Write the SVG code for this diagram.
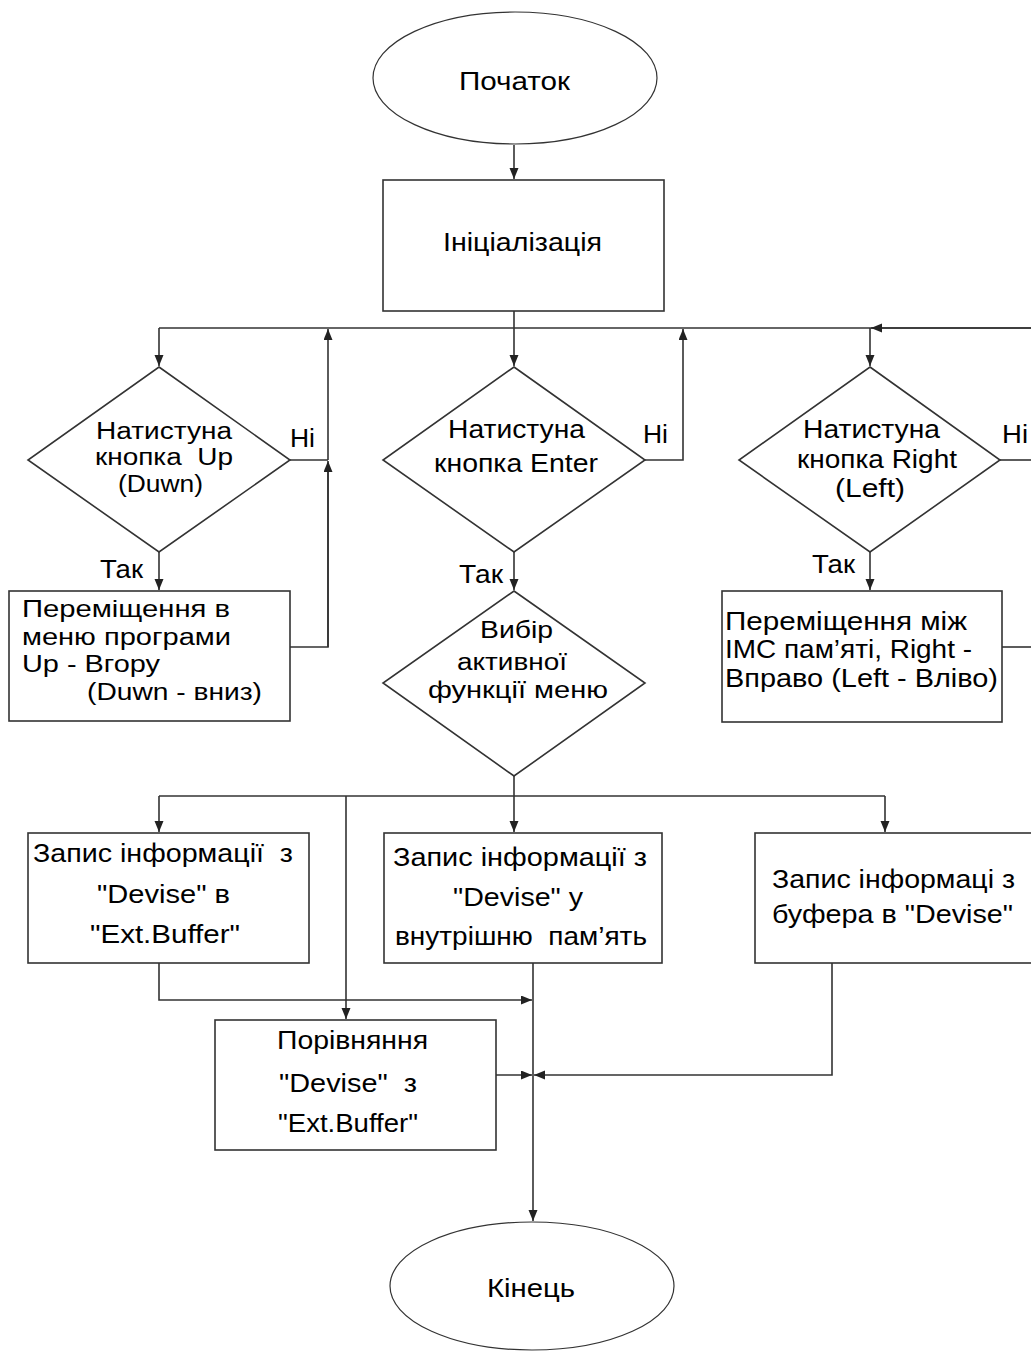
<svg xmlns="http://www.w3.org/2000/svg" width="1031" height="1352" viewBox="0 0 1031 1352">
<defs>
<marker id="ah" markerUnits="userSpaceOnUse" markerWidth="12" markerHeight="10" refX="11" refY="4.5" orient="auto">
<path d="M0,0 L11,4.5 L0,9 z" fill="#222"/>
</marker>
<style>
.s{fill:#fff;stroke:#333;stroke-width:1.6}
.e{fill:#fff;stroke:#333;stroke-width:1.2}
.c{fill:none;stroke:#333;stroke-width:1.6}
.a{marker-end:url(#ah)}
text{font-family:"Liberation Sans",Arial,sans-serif;font-size:26px;fill:#000;white-space:pre}
.t{font-size:23px}
</style>
</defs>
<rect width="1031" height="1352" fill="#fff"/>
<g id="connectors">
<path class="c a" d="M514,145 V179"/>
<path class="c a" d="M514,311 V366"/>
<path class="c" d="M159,328 H1031"/>
<path class="c a" d="M159,328 V366"/>
<path class="c" d="M290,460 H328"/>
<path class="c" d="M290,647 H328 V470"/>
<path class="c a" d="M328,647 V461"/>
<path class="c a" d="M328,460 V329"/>
<path class="c a" d="M159,552 V590"/>
<path class="c a" d="M645,460 H683 V329"/>
<path class="c a" d="M514,552 V590"/>
<path class="c a" d="M1031,328 H871"/>
<path class="c a" d="M870,328 V366"/>
<path class="c" d="M1000,460 H1031"/>
<path class="c" d="M1002,647 H1031"/>
<path class="c a" d="M870,552 V590"/>
<path class="c" d="M514,776 V796"/>
<path class="c" d="M159,796 H885"/>
<path class="c a" d="M159,796 V832"/>
<path class="c a" d="M514,796 V832"/>
<path class="c a" d="M885,796 V832"/>
<path class="c a" d="M346,796 V1019"/>
<path class="c a" d="M159,963 V1000 H532"/>
<path class="c a" d="M533,963 V1221"/>
<path class="c a" d="M496,1075 H532"/>
<path class="c a" d="M832,963 V1075 H534"/>
</g>
<g id="start">
<ellipse class="e" cx="515" cy="78" rx="142" ry="66"/>
<text x="459" y="90" textLength="111" lengthAdjust="spacingAndGlyphs">Початок</text>
</g>
<g id="init">
<rect class="s" x="383" y="180" width="281" height="131"/>
<text x="443" y="251" textLength="159" lengthAdjust="spacingAndGlyphs">Ініціалізація</text>
</g>
<g id="dec-up">
<polygon class="s" points="159,367 290,460 159,552 28,460"/>
<text class="t" x="96" y="439" textLength="136" lengthAdjust="spacingAndGlyphs">Натистуна</text>
<text class="t" x="95" y="465" textLength="138" lengthAdjust="spacingAndGlyphs" xml:space="preserve">кнопка  Up</text>
<text class="t" x="118" y="492" textLength="85" lengthAdjust="spacingAndGlyphs">(Duwn)</text>
<text x="290" y="447" textLength="25" lengthAdjust="spacingAndGlyphs">Ні</text>
<text x="100" y="578" textLength="43" lengthAdjust="spacingAndGlyphs">Так</text>
</g>
<g id="move-menu">
<rect class="s" x="9" y="591" width="281" height="130"/>
<text class="t" x="22" y="617" textLength="208" lengthAdjust="spacingAndGlyphs">Переміщення в</text>
<text class="t" x="22" y="645" textLength="209" lengthAdjust="spacingAndGlyphs">меню програми</text>
<text class="t" x="22" y="672" textLength="138" lengthAdjust="spacingAndGlyphs">Up - Вгору</text>
<text class="t" x="87" y="700" textLength="175" lengthAdjust="spacingAndGlyphs">(Duwn - вниз)</text>
</g>
<g id="dec-enter">
<polygon class="s" points="514,367 645,460 514,552 383,460"/>
<text x="448" y="438" textLength="137" lengthAdjust="spacingAndGlyphs">Натистуна</text>
<text x="434" y="472" textLength="164" lengthAdjust="spacingAndGlyphs">кнопка Enter</text>
<text x="643" y="443" textLength="25" lengthAdjust="spacingAndGlyphs">Ні</text>
<text x="459" y="583" textLength="44" lengthAdjust="spacingAndGlyphs">Так</text>
</g>
<g id="dec-select">
<polygon class="s" points="514,591 645,683 514,776 383,683"/>
<text class="t" x="480" y="638" textLength="73" lengthAdjust="spacingAndGlyphs">Вибір</text>
<text class="t" x="457" y="670" textLength="110" lengthAdjust="spacingAndGlyphs">активної</text>
<text class="t" x="428" y="698" textLength="180" lengthAdjust="spacingAndGlyphs">функції меню</text>
</g>
<g id="dec-right">
<polygon class="s" points="870,367 1000,460 870,552 739,460"/>
<text x="803" y="438" textLength="137" lengthAdjust="spacingAndGlyphs">Натистуна</text>
<text x="797" y="468" textLength="160" lengthAdjust="spacingAndGlyphs">кнопка Right</text>
<text x="835" y="497" textLength="70" lengthAdjust="spacingAndGlyphs">(Left)</text>
<text x="1002" y="443" textLength="26" lengthAdjust="spacingAndGlyphs">Ні</text>
<text x="812" y="573" textLength="43" lengthAdjust="spacingAndGlyphs">Так</text>
</g>
<g id="move-mem">
<rect class="s" x="722" y="591" width="280" height="131"/>
<text x="725" y="630" textLength="242" lengthAdjust="spacingAndGlyphs">Переміщення між</text>
<text x="725" y="658" textLength="247" lengthAdjust="spacingAndGlyphs">ІМС пам’яті, Right -</text>
<text x="725" y="687" textLength="273" lengthAdjust="spacingAndGlyphs">Вправо (Left - Вліво)</text>
</g>
<g id="write-ext">
<rect class="s" x="28" y="833" width="281" height="130"/>
<text x="33" y="862" textLength="260" lengthAdjust="spacingAndGlyphs" xml:space="preserve">Запис інформації  з</text>
<text x="97" y="903" textLength="133" lengthAdjust="spacingAndGlyphs">"Devise" в</text>
<text x="90" y="943" textLength="150" lengthAdjust="spacingAndGlyphs">"Ext.Buffer"</text>
</g>
<g id="write-int">
<rect class="s" x="384" y="833" width="278" height="130"/>
<text x="393" y="866" textLength="254" lengthAdjust="spacingAndGlyphs">Запис інформації з</text>
<text x="453" y="906" textLength="130" lengthAdjust="spacingAndGlyphs">"Devise" у</text>
<text x="395" y="945" textLength="252" lengthAdjust="spacingAndGlyphs" xml:space="preserve">внутрішню  пам’ять</text>
</g>
<g id="write-dev">
<rect class="s" x="755" y="833" width="290" height="130"/>
<text x="772" y="888" textLength="243" lengthAdjust="spacingAndGlyphs">Запис інформаці з</text>
<text x="772" y="923" textLength="241" lengthAdjust="spacingAndGlyphs">буфера в "Devise"</text>
</g>
<g id="compare">
<rect class="s" x="215" y="1020" width="281" height="130"/>
<text x="277" y="1049" textLength="151" lengthAdjust="spacingAndGlyphs">Порівняння</text>
<text x="279" y="1092" textLength="138" lengthAdjust="spacingAndGlyphs" xml:space="preserve">"Devise"  з</text>
<text x="278" y="1132" textLength="140" lengthAdjust="spacingAndGlyphs">"Ext.Buffer"</text>
</g>
<g id="end">
<ellipse class="e" cx="532" cy="1286" rx="142" ry="64"/>
<text x="487" y="1297" textLength="88" lengthAdjust="spacingAndGlyphs">Кінець</text>
</g>
</svg>
